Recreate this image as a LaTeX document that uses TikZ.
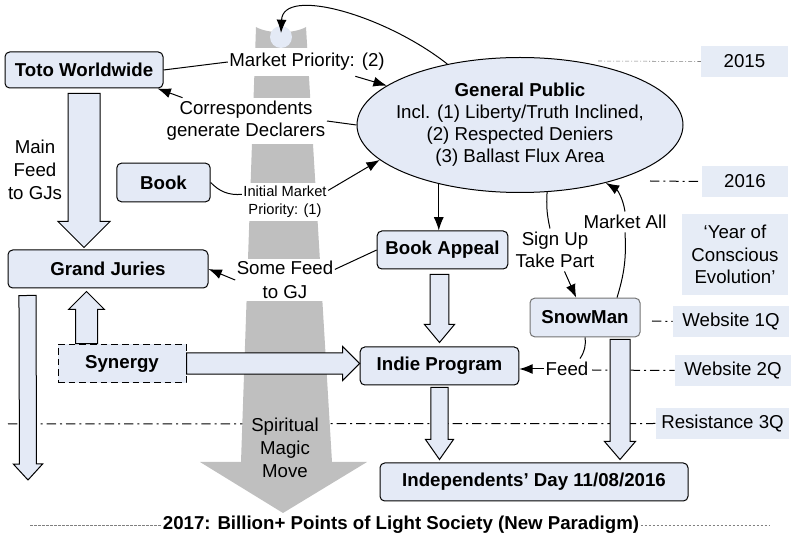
\documentclass[tikz,border=0pt]{standalone}
\usepackage{fontspec}
\setmainfont{Liberation Sans}
\usetikzlibrary{shapes.geometric}
\usetikzlibrary{arrows.meta}
\usetikzlibrary{calc}

\definecolor{boxblue}{HTML}{E4EAF6}
\definecolor{tagblue}{HTML}{E6ECF6}
\definecolor{magicgray}{HTML}{BFBFBF}

% block arrow: start, end, shaft half width, head half width, head length
\newcommand{\fatarrow}[5]{%
  \draw[fat] let \p1=(#1), \p2=(#2), \n1={atan2(\y2-\y1,\x2-\x1)}, \n2={veclen(\x2-\x1,\y2-\y1)} in
    [shift={(\p1)}, rotate=\n1]
    (0pt,-#3) -- (\n2-#5,-#3) -- (\n2-#5,-#4) -- (\n2,0pt) -- (\n2-#5,#4) -- (\n2-#5,#3) -- (0pt,#3) -- cycle;}

\begin{document}
\begin{tikzpicture}[x=0.75pt,y=-0.75pt,
        font=\fontsize{14}{16.5}\selectfont,
        box/.style={rectangle,rounded corners=3.5pt,draw=black,line width=0.75pt,fill=boxblue,inner sep=0pt,font=\fontsize{14}{16.5}\selectfont\bfseries},
        tag/.style={rectangle,fill=tagblue,inner sep=0pt,align=center,font=\fontsize{14}{17}\selectfont},
        lbl/.style={fill=white,inner xsep=1pt,inner ysep=2.5pt,align=center},
        arr/.style={line width=0.75pt,-{Latex[length=10pt,width=7.5pt]}},
        con/.style={line width=0.75pt},
        fat/.style={draw=black,line width=0.75pt,fill=boxblue},
        dashdot/.style={line width=0.75pt,dash pattern=on 7pt off 3pt on 1.5pt off 3pt},
        faint/.style={line width=0.4pt,black!50,dash pattern=on 3pt off 1.5pt on 0.75pt off 1.5pt},
        fainter/.style={line width=0.4pt,black!50,dash pattern=on 2pt off 1pt}
        ]
        \useasboundingbox (0,0) rectangle (794,538);
        \node (y15) [tag, minimum width=65pt, minimum height=23pt] at (744.5,61.5) {2015};
        \node (y16) [tag, minimum width=65pt, minimum height=23pt] at (745,181.5) {2016};
        \node (yoce) [tag, minimum width=79.5pt, minimum height=61pt] at (735,254.5) {‘Year of\\Conscious\\Evolution’};
        \node (w1q) [tag, minimum width=87pt, minimum height=23pt] at (731,321.5) {Website 1Q};
        \node (w2q) [tag, minimum width=87pt, minimum height=23pt] at (733,370.5) {Website 2Q};
        \node (r3q) [tag, minimum width=100pt, minimum height=23pt] at (722.5,423.5) {Resistance 3Q};
        \coordinate (l15) at (598,61);
        \coordinate (l16) at (650,181);
        \coordinate (l1q) at (652,321);
        \coordinate (l2q) at (592,370);
        \coordinate (l3q) at (8,424);
        \draw[faint] (l15) -- (y15.west);
        \draw[dashdot] (l16) -- (y16.west);
        \draw[dashdot] (l1q) -- (w1q.west);
        \draw[dashdot] (l2q) -- (w2q.west);
        \draw[dashdot] (l3q) -- (r3q.west);
        \fill[magicgray] (256,27) .. controls (268,34) and (294,34) .. (306,27) -- (332,462) -- (367,462) -- (283,513) -- (200,462) -- (241,462) -- cycle;
        \node (circ) [circle, fill=boxblue, inner sep=0pt, minimum size=16.5pt] at (281,37) {};
        \node (smm) [align=center, font=\fontsize{14}{17.25}\selectfont] at (285,448) {Spiritual\\Magic\\Move};
        \node (toto) [box, minimum width=118.5pt, minimum height=27pt] at (84,70) {Toto Worldwide};
        \node (book) [box, minimum width=70pt, minimum height=29pt] at (163.5,182.5) {Book};
        \node (gj) [box, minimum width=150pt, minimum height=28.5pt] at (108,269) {Grand Juries};
        \node (syn) [box, sharp corners, dash pattern=on 5pt off 3pt, minimum width=96pt, minimum height=29pt] at (122,363.5) {Synergy};
        \node (bookap) [box, minimum width=98pt, minimum height=28.5pt] at (442.5,250) {Book Appeal};
        \node (indie) [box, minimum width=119pt, minimum height=28.5pt] at (439.5,366) {Indie Program};
        \node (snow) [box, draw=black!55, minimum width=82.5pt, minimum height=29pt] at (585,317.5) {SnowMan};
        \node (indep) [box, minimum width=231pt, minimum height=28.5pt] at (534,482) {Independents’ Day 11/08/2016};
        \node (gp) [ellipse, draw=black, line width=0.75pt, fill=boxblue, minimum width=244.5pt, minimum height=101.25pt, inner sep=0pt] at (520,125) {};
        \node (gptxt) [align=center] at (gp) {\textbf{General Public}\\Incl. (1) Liberty/Truth Inclined,\\(2) Respected Deniers\\(3) Ballast Flux Area};
        \node (mp2) [lbl, inner ysep=4pt] at (307,62) {Market Priority: (2)};
        \node (corr) [lbl] at (246,121) {Correspondents\\generate Declarers};
        \node (imp1) [lbl, font=\fontsize{11}{13.5}\selectfont, inner ysep=2.4pt] at (285,202) {Initial Market\\Priority: (1)};
        \node (sf) [lbl, font=\fontsize{14}{18}\selectfont, inner ysep=1.7pt] at (285,280) {Some Feed\\to GJ};
        \node (mf) [align=center, font=\fontsize{14}{17.25}\selectfont] at (35,170) {Main\\Feed\\to GJs};
        \node (sut) [lbl, inner xsep=2pt] at (555,250) {Sign Up\\Take Part};
        \node (ma) [lbl, inner xsep=2pt] at (625,222) {Market All};
        \node (feed) [lbl, inner xsep=1pt] at (567,369) {Feed};
        \node (para) [inner xsep=1pt] at (401,525) {\bfseries 2017: Billion+ Points of Light Society (New Paradigm)};
        \coordinate (pl) at (30,525);
        \coordinate (pr) at (770,525);
        \draw[fainter] (pl) -- (para.west);
        \draw[fainter] (para.east) -- (pr);
        \coordinate (gjend) at (28,480);
        \coordinate (synup) at ($(syn.north west)+(29,0)$);
        \coordinate (snowdn) at ($(snow.south)+(35,2)$);
        \fatarrow{$(toto.south)+(0,5)$}{$(toto.south |- gj.north)+(0,-2)$}{12pt}{19.5pt}{19.5pt}
        \fatarrow{$(gj.south west)+(20,7)$}{gjend}{6.4pt}{11pt}{12pt}
        \fatarrow{synup}{$(synup |- gj.south)+(0,3)$}{8.25pt}{13.5pt}{13.5pt}
        \fatarrow{syn.east}{syn.east -| indie.west}{7.9pt}{12.75pt}{12.75pt}
        \fatarrow{$(indie.north |- bookap.south)+(0,5)$}{$(indie.north)+(0,-4)$}{7pt}{11.25pt}{13.5pt}
        \fatarrow{$(indie.south)+(0,2)$}{$(indie.south |- indep.north)+(0,-3)$}{6.4pt}{10.5pt}{15pt}
        \fatarrow{snowdn}{$(snowdn |- indep.north)+(0,-3)$}{7.5pt}{11.6pt}{13.5pt}
        \draw[arr] (gp.140) .. controls (385,15) and (283,-14) .. ($(circ.center)+(0,-4)$);
        \draw[con] (toto.east) -- (mp2.west);
        \draw[arr] (mp2) -- (gp);
        \draw[con] (gp.west) -- (corr.east);
        \draw[arr] (corr) -- ($(toto.south east)+(-6,0)$);
        \draw[con] (book.east) to[bend right=25] (imp1.170);
        \draw[arr] (imp1.15) -- (gp.194);
        \draw[con] (bookap.west) -- (sf.12);
        \draw[arr] (sf.west) -- (gj.east);
        \draw[arr] (gp.216) -- (gp.216 |- bookap.north);
        \draw[con] (gp.292) to[bend right=8] ($(sut.north)+(-5,0)$);
        \draw[arr] (sut) -- (snow);
        \draw[con] ($(snow.north)+(32,0)$) to[bend right=10] (ma.south);
        \draw[arr] (ma.north) to[bend right=25] (gp.326);
        \draw[con] (snow.south) to[bend left=20] ($(feed.north)+(13,0)$);
        \draw[arr] (feed.west) -- (feed.west -| indie.east);
    \end{tikzpicture}
\end{document}
